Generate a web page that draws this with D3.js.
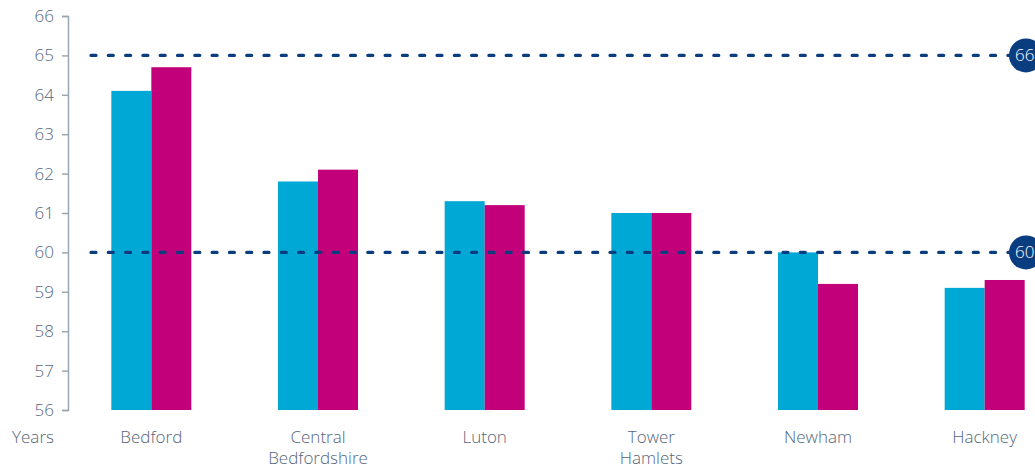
<!DOCTYPE html>
<html>
<head>
<meta charset="utf-8">
<script src="https://cdn.jsdelivr.net/npm/d3@7"></script>
<style>
  body { margin: 0; background: #fff; }
  svg text { font-family: "Open Sans", "Noto Sans", sans-serif; font-weight: 300; }
</style>
</head>
<body>
<svg width="1035" height="469"></svg>
<script>
// categories (two-line labels split on |)
var areas = ["Bedford", "Central|Bedfordshire", "Luton", "Tower|Hamlets", "Newham", "Hackney"];
// series values, years
var seriesA = [64.1, 61.8, 61.3, 61.0, 60.0, 59.1];
var seriesB = [64.7, 62.1, 61.2, 61.0, 59.2, 59.3];
var yTicks = [56, 57, 58, 59, 60, 61, 62, 63, 64, 65, 66];
// dotted reference lines and their badge labels
var refValues = [65, 60];
var refLabels = ["66", "60"];

var colA = "#00a8d6", colB = "#c1007a", refCol = "#0a3d80", textCol = "#56667a";

var svg = d3.select("svg");

var y = d3.scaleLinear().domain([56, 66]).range([410, 16]);
var x = d3.scaleBand().domain(areas).range([68, 1068])
  .paddingInner(0.52).paddingOuter(0.26);
var xs = d3.scaleBand().domain(["a", "b"]).range([0, x.bandwidth()]);

// y axis
var yAxis = svg.append("g").attr("transform", "translate(68,0)")
  .call(d3.axisLeft(y).tickValues(yTicks).tickSize(6).tickPadding(8));
yAxis.select(".domain").attr("stroke", "#9aa7b1").attr("stroke-width", 1.5);
yAxis.selectAll(".tick line").attr("stroke", "#9aa7b1").attr("stroke-width", 1.5);
yAxis.selectAll(".tick text").attr("fill", textCol).style("font-size", "17px");

// bars
var groups = svg.append("g").selectAll("g").data(areas).enter().append("g")
  .attr("transform", function(d) { return "translate(" + x(d) + ",0)"; });
groups.append("rect")
  .attr("x", xs("a")).attr("width", xs.bandwidth())
  .attr("y", function(d, i) { return y(seriesA[i]); })
  .attr("height", function(d, i) { return y(56) - y(seriesA[i]); })
  .attr("fill", colA);
groups.append("rect")
  .attr("x", xs("b")).attr("width", xs.bandwidth())
  .attr("y", function(d, i) { return y(seriesB[i]); })
  .attr("height", function(d, i) { return y(56) - y(seriesB[i]); })
  .attr("fill", colB);

// reference lines
var refs = svg.append("g").selectAll("g").data(refValues).enter().append("g");
refs.append("line")
  .attr("x1", 91).attr("x2", 1012)
  .attr("y1", function(d) { return y(d); }).attr("y2", function(d) { return y(d); })
  .attr("stroke", refCol).attr("stroke-width", 3.2)
  .attr("stroke-linecap", "round").attr("stroke-dasharray", "5,12.3");
refs.append("circle")
  .attr("cx", 1026).attr("cy", function(d) { return y(d); }).attr("r", 17)
  .attr("fill", refCol);
refs.append("text")
  .attr("x", 1015).attr("y", function(d) { return y(d) + 6; })
  .attr("fill", "#fff").style("font-size", "17px")
  .text(function(d, i) { return refLabels[i]; });

// category labels
var labels = svg.append("g").selectAll("text").data(areas).enter().append("text")
  .attr("x", function(d) { return x(d) + x.bandwidth() / 2; })
  .attr("y", 443)
  .attr("text-anchor", "middle").attr("fill", textCol).style("font-size", "17px");
labels.selectAll("tspan").data(function(d) { return d.split("|"); }).enter().append("tspan")
  .attr("x", function() { return d3.select(this.parentNode).attr("x"); })
  .attr("dy", function(d, i) { return i ? 21 : 0; })
  .text(function(d) { return d; });

svg.append("text").attr("x", 33).attr("y", 443).attr("text-anchor", "middle")
  .attr("fill", textCol).style("font-size", "17px").text("Years");
</script>
</body>
</html>
